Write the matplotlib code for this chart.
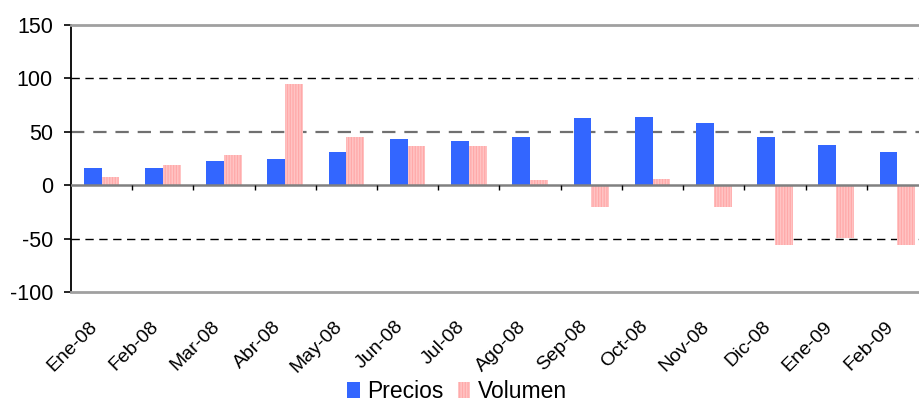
import matplotlib
matplotlib.use("Agg")
import matplotlib.pyplot as plt
import matplotlib.transforms as mtransforms
import numpy as np

plt.rcParams['font.family'] = ['Liberation Sans', 'DejaVu Sans']
plt.rcParams['axes.unicode_minus'] = False
plt.rcParams['hatch.linewidth'] = 0.9

# data
months = ['Ene-08', 'Feb-08', 'Mar-08', 'Abr-08', 'May-08', 'Jun-08', 'Jul-08',
          'Ago-08', 'Sep-08', 'Oct-08', 'Nov-08', 'Dic-08', 'Ene-09', 'Feb-09']
precios = [16.5, 16.5, 23, 25, 31.5, 43.5, 41, 45.5, 62.5, 63.5, 58.5, 45.5, 38, 31.5]
volumen = [8, 18.5, 28, 95, 45, 37, 37, 5, -20.5, 6, -20.5, -56, -49.5, -56]

blue = '#3366ff'
pink = '#ffc4c4'
stripe = '#ffa9a9'

fig = plt.figure(figsize=(9.2, 4.05), dpi=100)
ax = fig.add_axes([71 / 920, 113 / 405, 857 / 920, 267 / 405])

x = np.arange(len(months))
w = 0.29
ax.bar(x - w / 2, precios, w, color=blue, label='Precios', zorder=2)
ax.bar(x + w / 2, volumen, w, color=pink, edgecolor=stripe, linewidth=0,
       hatch='||||||', label='Volumen', zorder=2)

ax.set_xlim(-0.5, len(months) - 0.5)
ax.set_ylim(-100, 150)
ax.set_yticks([-100, -50, 0, 50, 100, 150])

# dashed gridlines
for yv, col, lw in [(100, 'black', 1.0), (50, '#707070', 1.6), (-50, 'black', 1.0)]:
    ax.axhline(yv, color=col, lw=lw, ls=(0, (6, 4)), zorder=1)

# zero line with category boundary ticks
ax.axhline(0, color='#808080', lw=1.8, zorder=3)
bounds = np.arange(0.5, len(months), 1.0)
ax.vlines(bounds, 0, -4.5, colors='black', lw=1.0, zorder=3)

for side in ['top', 'bottom', 'right']:
    ax.spines[side].set_color('#a0a0a0')
    ax.spines[side].set_linewidth(2)
ax.spines['left'].set_color('black')
ax.spines['left'].set_linewidth(1.3)

ax.tick_params(axis='y', direction='out', length=5, width=1.2, labelsize=15.5, pad=8)
ax.set_xticks(x)
ax.set_xticklabels(months, rotation=45, ha='right', rotation_mode='anchor', fontsize=14)
ax.tick_params(axis='x', length=0, pad=10)
shift = mtransforms.ScaledTranslation(-0.13, -0.12, fig.dpi_scale_trans)
for lab in ax.get_xticklabels():
    lab.set_transform(lab.get_transform() + shift)

fig.legend(loc='lower center', bbox_to_anchor=(0.497, -0.045), ncol=2, frameon=False,
           fontsize=16.5, handlelength=0.55, handleheight=0.7, handletextpad=0.35,
           columnspacing=0.6)

fig.savefig('out.png', dpi=100)
